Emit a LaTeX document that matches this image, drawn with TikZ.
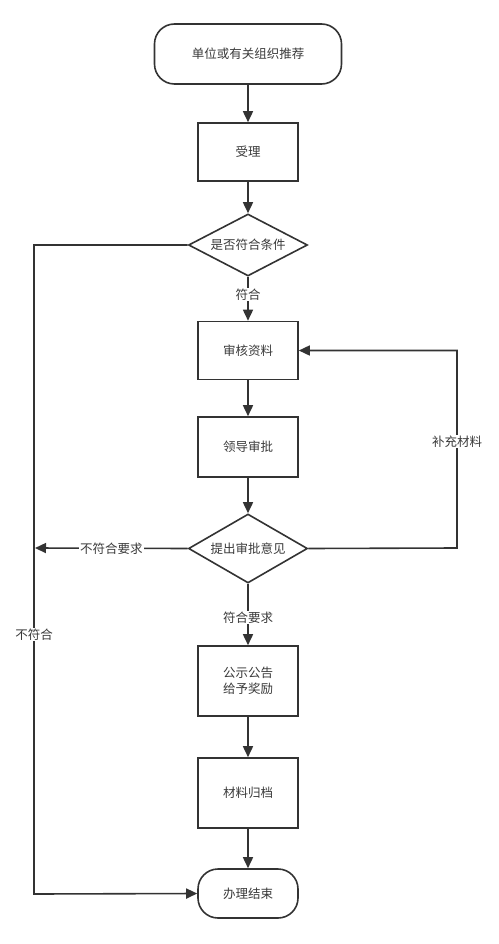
\documentclass[tikz,border=0pt]{standalone}
\usepackage{fontspec}
\setmainfont{Noto Sans CJK SC}
\usetikzlibrary{shapes.geometric,arrows.meta,positioning}
\definecolor{ink}{HTML}{333333}
\definecolor{txt}{HTML}{3A3A3A}
\begin{document}
\begin{tikzpicture}[x=1pt,y=-1pt,
  every node/.style={font=\fontsize{12.5}{15.5}\selectfont, text=txt},
  box/.style={draw=ink, line width=1.6pt, minimum width=100pt, minimum height=58pt, inner sep=0pt, align=center},
  term/.style={draw=ink, line width=1.6pt, rounded corners=20pt, inner sep=0pt},
  dia/.style={draw=ink, line width=1.6pt, diamond, aspect=2, inner sep=0pt, minimum width=119pt, minimum height=62pt},
  conn/.style={draw=ink, line width=1.6pt},
  arr/.style={conn, -{Triangle[length=11pt,width=10pt]}},
  lbl/.style={fill=white, inner sep=1pt}
]
\useasboundingbox (0,0) rectangle (498,944);
\fill[white] (0,0) rectangle (498,944);

\node[term, minimum width=187pt, minimum height=60pt] (start) at (248,54) {单位或有关组织推荐};
\node[box] (shouli) at (248,152) {受理};
\node[dia] (d1) at (248,245) {是否符合条件};
\node[box] (shenhe) at (248,350.5) {审核资料};
\node[box, minimum height=60pt] (lingdao) at (248,447) {领导审批};
\node[dia, minimum height=69pt] (d2) at (248,548.5) {提出审批意见};
\node[box, minimum height=70pt] (gongshi) at (248,681) {公示公告\\给予奖励};
\node[box, minimum height=70pt] (cailiao) at (248,793) {材料归档};
\node[term, minimum width=100pt, minimum height=49pt] (end) at (248,893.5) {办理结束};

\coordinate (lt) at (34,245);
\coordinate (lb) at (34,894);
\coordinate (lm) at (35,548);
\coordinate (rb) at (457,548);

\draw[arr] (start) -- (shouli);
\draw[arr] (shouli) -- (d1);
\draw[arr] (d1) -- node[lbl, pos=0.4] {符合} (shenhe);
\draw[arr] (shenhe) -- (lingdao);
\draw[arr] (lingdao) -- (d2);
\draw[arr] (d2) -- node[lbl, pos=0.55] {符合要求} (gongshi);
\draw[arr] (gongshi) -- (cailiao);
\draw[arr] (cailiao) -- (end);

\draw[arr] (d1.west) -- (lt) -- node[lbl, pos=0.6] {不符合} (lb) -- (end.west);
\draw[arr] (d2.west) -- node[lbl, pos=0.5] {不符合要求} (lm);
\draw[arr] (d2.east) -- (rb) |- node[lbl, pos=0.27] {补充材料} (shenhe.east);
\end{tikzpicture}
\end{document}
